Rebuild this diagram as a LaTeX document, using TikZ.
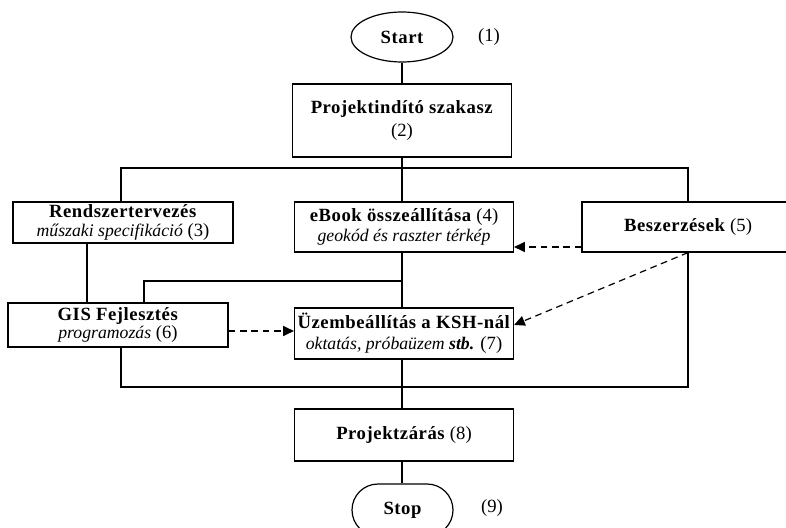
\documentclass[tikz,border=0pt]{standalone}
\usepackage{fontspec}
\setmainfont{Liberation Serif}[BoldFeatures={LetterSpace=3}, ItalicFeatures={Scale=0.95}, BoldItalicFeatures={Scale=0.95}]
\usepackage{tikz}
\usetikzlibrary{shapes.geometric, shapes.misc, arrows.meta}
\newcommand{\boxfont}{\fontsize{14}{15}\selectfont}
\tikzstyle{startstop} = [ellipse, minimum width=76.5pt, minimum height=37.5pt, inner sep=0pt, text centered, draw=black, line width=0.9pt, font=\boxfont\bfseries]
\tikzstyle{stopbox} = [rounded rectangle, minimum width=75.75pt, minimum height=39pt, inner sep=0pt, text centered, draw=black, line width=0.9pt, font=\boxfont\bfseries]
\tikzstyle{process} = [rectangle, minimum width=164.25pt, inner sep=0pt, align=center, draw=black, line width=0.9pt, font=\boxfont]
\tikzstyle{line} = [line width=0.9pt]
\tikzstyle{dasharrow} = [line width=0.9pt, dash pattern=on 5pt off 3.5pt, -{Triangle[length=8pt,width=7.5pt]}]
\tikzstyle{stepno} = [font=\boxfont]

\begin{document}
\begin{tikzpicture}[x=0.75pt, y=-0.75pt]
    \useasboundingbox (0,0) rectangle (786,528);
    % nodes
    \node (start) [startstop] at (402,37) {Start};
    \node (n1) [stepno] at (489,37) {(1)};
    \node (init) [process, minimum height=54.75pt] at (402,120.5) {\textbf{Projektindító szakasz}\\[2pt](2)};
    \node (design) [process, minimum width=165pt, minimum height=30.75pt] at (123,222.5) {\textbf{Rendszertervezés}\\[-1pt]\textit{műszaki specifikáció} (3)};
    \node (ebook) [process, minimum height=37.5pt] at (404,227) {\textbf{eBook összeállítása} (4)\\\textit{geokód és raszter térkép}};
    \node (purchase) [process, minimum width=159pt, minimum height=37.5pt] at (688,227) {\raisebox{3pt}{\textbf{Beszerzések} (5)}};
    \node (gis) [process, minimum width=165pt, minimum height=33pt] at (118,325) {\textbf{GIS Fejlesztés}\\[-1pt]\textit{programozás} (6)};
    \node (setup) [process, minimum height=38.25pt] at (404,333.5) {\textbf{Üzembeállítás a KSH-nál}\\[1pt]\textit{oktatás, próbaüzem \textbf{stb.}} (7)};
    \node (close) [process, minimum height=39pt] at (404,435) {\textbf{Projektzárás} (8)};
    \node (stop) [stopbox] at (402.5,510) {Stop};
    \node (n9) [stepno] at (492,508) {(9)};
    % junctions
    \coordinate (split) at (402,168);
    \coordinate (fork) at (402,281);
    \coordinate (join) at (402,387);
    \coordinate (dline) at (87,0);
    \coordinate (gline) at (144,0);
    % connectors
    \draw [line] (start) -- (init);
    \draw [line] (init.south -| split) -- (split);
    \draw [line] (design.north -| 121,0) |- (split) -| (purchase.north);
    \draw [line] (split) -- (ebook.north -| split);
    \draw [line] (design.south -| dline) -- (gis.north -| dline);
    \draw [line] (ebook.south -| split) -- (setup.north -| split);
    \draw [line] (fork) -| (gis.north -| gline);
    \draw [line] (purchase.south) |- (join) -| (gis.south -| 121,0);
    \draw [line] (setup.south -| join) -- (close.north -| join);
    \draw [line] (close.south -| join) -- (stop.north -| join);
    \draw [dasharrow] ([yshift=-15pt]purchase.west) -- ([yshift=-15pt]purchase.west -| ebook.east);
    \draw [dasharrow] ([yshift=-4.5pt]gis.east) -- ([yshift=-4.5pt]gis.east -| setup.west);
    \draw [dasharrow] (purchase.south) -- ([yshift=6.4pt]setup.east);
\end{tikzpicture}
\end{document}
